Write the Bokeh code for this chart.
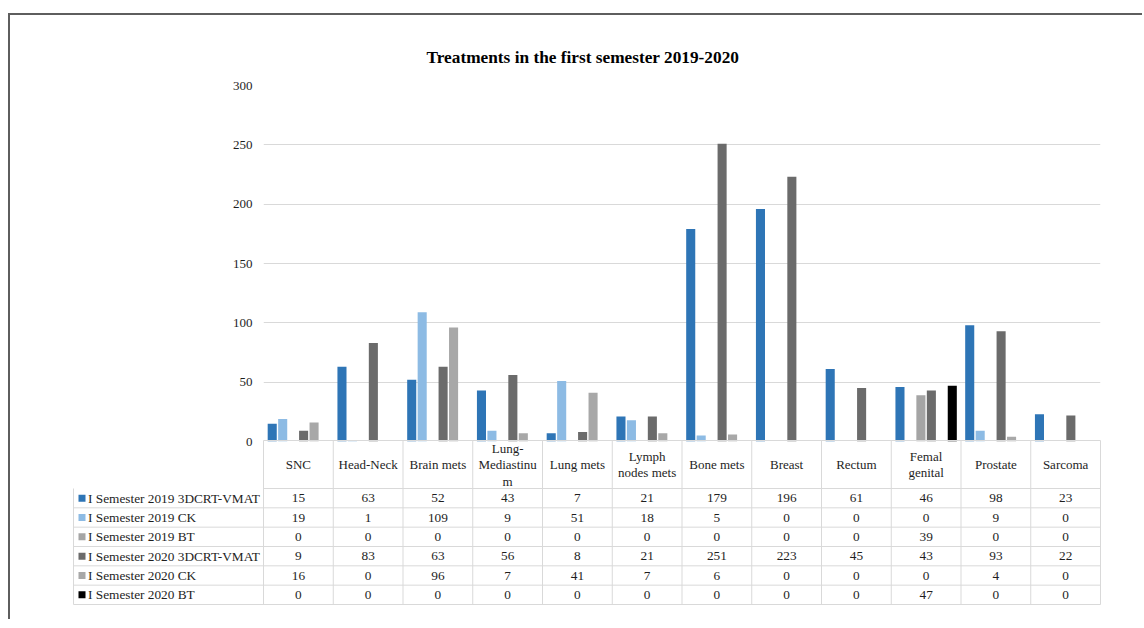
import numpy as np
from bokeh.plotting import figure
from bokeh.models import Range1d, FactorRange, FixedTicker, ColumnDataSource, Title
from bokeh.transform import dodge
from bokeh.embed import file_html
from bokeh.resources import INLINE
from bokeh.core.properties import value

# ---------------- data ----------------
categories = ["SNC", "Head-Neck", "Brain mets", "Lung-Mediastinum", "Lung mets",
              "Lymph nodes mets", "Bone mets", "Breast", "Rectum", "Femal genital",
              "Prostate", "Sarcoma"]
header_labels = ["SNC", "Head-Neck", "Brain mets", "Lung-\nMediastinu\nm", "Lung mets",
                 "Lymph\nnodes mets", "Bone mets", "Breast", "Rectum", "Femal\ngenital",
                 "Prostate", "Sarcoma"]
series_names = ["I Semester 2019 3DCRT-VMAT", "I Semester 2019 CK", "I Semester 2019 BT",
                "I Semester 2020 3DCRT-VMAT", "I Semester 2020 CK", "I Semester 2020 BT"]
s2019_3dcrt = [15, 63, 52, 43, 7, 21, 179, 196, 61, 46, 98, 23]
s2019_ck = [19, 1, 109, 9, 51, 18, 5, 0, 0, 0, 9, 0]
s2019_bt = [0, 0, 0, 0, 0, 0, 0, 0, 0, 39, 0, 0]
s2020_3dcrt = [9, 83, 63, 56, 8, 21, 251, 223, 45, 43, 93, 22]
s2020_ck = [16, 0, 96, 7, 41, 7, 6, 0, 0, 0, 4, 0]
s2020_bt = [0, 0, 0, 0, 0, 0, 0, 0, 0, 47, 0, 0]
y_ticks = [0, 50, 100, 150, 200, 250, 300]
title_text = "Treatments in the first semester 2019-2020"

series_values = [s2019_3dcrt, s2019_ck, s2019_bt, s2020_3dcrt, s2020_ck, s2020_bt]
colors = ["#2E75B6", "#8DBBE4", "#A5A5A5", "#6B6B6B", "#A8A8A8", "#000000"]
offsets = [-0.375, -0.225, -0.075, 0.075, 0.225, 0.375]

FONT = "Liberation Serif"
TXT = "#1E1E1E"
GRID = "#D9D9D9"
BORDER = "2px solid #5E5E5E"

# ---------------- chart ----------------
src = ColumnDataSource(dict(cat=categories, **{f"s{i}": v for i, v in enumerate(series_values)}))

p = figure(width=1134, height=434, x_range=FactorRange(factors=categories),
           y_range=Range1d(0, 300), output_backend="svg", toolbar_location=None,
           x_axis_location=None, min_border_left=253, min_border_right=44,
           min_border_top=70, min_border_bottom=8)
p.outline_line_color = None
p.xgrid.grid_line_color = None
p.ygrid.ticker = FixedTicker(ticks=y_ticks)
p.ygrid.grid_line_color = GRID
p.yaxis.ticker = FixedTicker(ticks=y_ticks)
p.yaxis.axis_line_color = None
p.yaxis.major_tick_line_color = None
p.yaxis.minor_tick_line_color = None
p.yaxis.major_tick_out = 0
p.yaxis.major_label_standoff = 11
p.yaxis.major_label_text_font = FONT
p.yaxis.major_label_text_font_size = "13px"
p.yaxis.major_label_text_color = TXT

for i in range(6):
    p.vbar(x=dodge("cat", offsets[i], range=p.x_range), top=f"s{i}", width=0.13,
           source=src, fill_color=colors[i], line_color=None)

p.title = Title(text=title_text, align="left", offset=163, standoff=37, text_font=FONT,
                text_font_size="17.3px", text_font_style="bold", text_color="#000000")
p.styles = {"border-left": BORDER, "border-top": BORDER,
            "margin-left": "8px", "margin-top": "13px"}

# ---------------- data table ----------------
CW = 837 / 12.0      # px per category column
RH = 116 / 6.0       # px per row
LW = 190 / CW        # label column width, in column units
H = 48 / RH          # header height, in row units

t = figure(width=1134, height=180,
           x_range=Range1d(-LW - 2 / CW, 12 + 2 / CW),
           y_range=Range1d(-6 - 2 / RH, H + 1 / RH),
           output_backend="svg", toolbar_location=None,
           x_axis_location=None, y_axis_location=None,
           min_border_left=61, min_border_right=42, min_border_top=0, min_border_bottom=13)
t.outline_line_color = None
t.grid.visible = False
t.background_fill_color = None
t.border_fill_color = None
t.styles = {"border-left": BORDER, "margin-left": "8px", "margin-top": "-8px"}

# grid lines
x0, x1, y0, y1 = [], [], [], []
for r in range(7):
    x0.append(-LW if r > 0 else 0); x1.append(12); y0.append(-r); y1.append(-r)
x0.append(0); x1.append(12); y0.append(H); y1.append(H)
x0.append(-LW); x1.append(-LW); y0.append(-6); y1.append(0)
for c in range(13):
    x0.append(c); x1.append(c); y0.append(-6); y1.append(H)
t.segment(x0=x0, y0=y0, x1=x1, y1=y1, line_color=GRID, line_width=1)

centers = [i + 0.5 for i in range(12)]
t.text(x=centers, y=[H / 2] * 12, text=header_labels, text_font=value(FONT),
       text_font_size="13px", text_color=TXT, text_align="center",
       text_baseline="middle", text_line_height=1.1)

for r in range(6):
    yr = -(r + 0.5)
    t.text(x=centers, y=[yr] * 12, text=[str(v) for v in series_values[r]],
           text_font=value(FONT), text_font_size="13.3px", text_color=TXT,
           text_align="center", text_baseline="middle")

t.scatter(x=[-LW + 8.5 / CW] * 6, y=[-(r + 0.5) for r in range(6)], marker="square",
          size=7, fill_color=colors, line_color=None)
t.text(x=[-LW + 14.5 / CW] * 6, y=[-(r + 0.5) for r in range(6)], text=series_names,
       text_font=value(FONT), text_font_size="13.3px", text_color=TXT,
       text_align="left", text_baseline="middle")

open("out.html", "w").write(file_html([p, t], INLINE))
